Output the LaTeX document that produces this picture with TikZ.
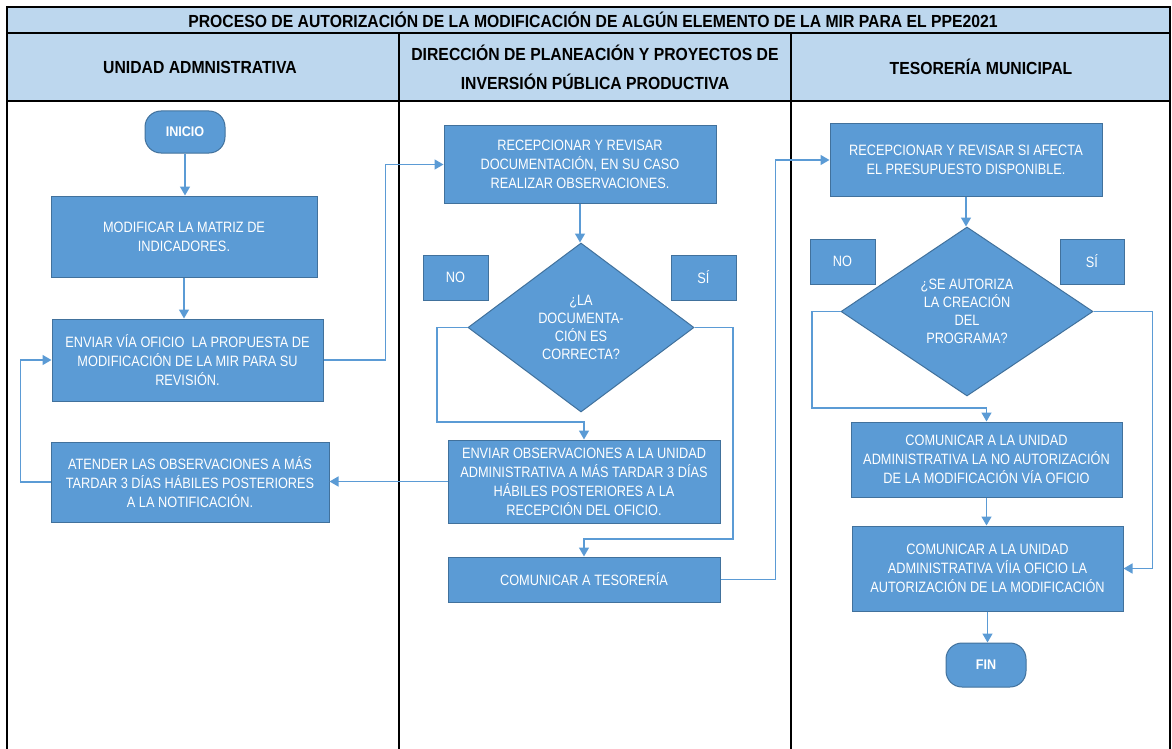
\documentclass[tikz,border=0pt]{standalone}
\usepackage{fontspec}
\setmainfont{Liberation Sans}[FakeStretch=0.85, BoldFeatures={FakeStretch=0.9}]
\usetikzlibrary{arrows.meta,shapes.geometric}

\definecolor{cajaazul}{RGB}{91,155,213}
\definecolor{bordeazul}{RGB}{65,113,156}
\definecolor{encabezado}{RGB}{189,215,238}

\tikzset{
    caja/.style={rectangle, fill=cajaazul, draw=bordeazul, line width=1pt, text=white,
                 align=center, inner sep=0pt, font=\fontsize{15}{19}\selectfont},
    rombo/.style={diamond, fill=cajaazul, draw=bordeazul, line width=1pt, text=white,
                  align=center, inner sep=0pt, font=\fontsize{15}{18}\selectfont},
    extremo/.style={caja, rounded corners=16pt, font=\bfseries\fontsize{14}{17}\selectfont,
                    minimum width=80pt},
    flujo/.style={draw=cajaazul, line width=1.5pt, -{Triangle[width=10pt,length=9pt]}},
    titulo/.style={font=\bfseries\fontsize{17.5}{29}\selectfont, align=center}
}

\begin{document}
\begin{tikzpicture}[x=1pt, y=-1pt]
                \useasboundingbox (0,0) rectangle (1172,749);
                % encabezado y carriles
                \fill[encabezado] (7,7) rectangle (1170,101);
                \draw[line width=2.5pt] (7,749) -- (7,7) -- (1170,7) -- (1170,749);
                \draw[line width=2pt] (7,33) -- (1170,33);
                \draw[line width=2pt] (7,101) -- (1170,101);
                \draw[line width=2pt] (399,33) -- (399,749);
                \draw[line width=2pt] (791,33) -- (791,749);
                \node(tit)    at(593, 20) [titulo] {PROCESO DE AUTORIZACIÓN DE LA MODIFICACIÓN DE ALGÚN ELEMENTO DE LA MIR PARA EL PPE2021};
                \node(car_ua) at(200, 67) [titulo] {UNIDAD ADMNISTRATIVA};
                \node(car_dp) at(595, 67) [titulo] {DIRECCIÓN DE PLANEACIÓN Y PROYECTOS DE\\INVERSIÓN PÚBLICA PRODUCTIVA};
                \node(car_tm) at(981, 67) [titulo] {TESORERÍA MUNICIPAL};

                % unidad administrativa
                \node(ini)   at(185, 132)   [extremo, minimum height=42pt] {INICIO};
                \node(mod_m) at(184, 236.5) [caja, minimum width=266pt, minimum height=81pt] {MODIFICAR LA MATRIZ DE\\INDICADORES.};
                \node(env_p) at(187.5, 360) [caja, minimum width=271pt, minimum height=82pt] {ENVIAR VÍA OFICIO \ LA PROPUESTA DE\\MODIFICACIÓN DE LA MIR PARA SU\\REVISIÓN.};
                \node(ate_o) at(190, 482)   [caja, minimum width=278pt, minimum height=80pt] {ATENDER LAS OBSERVACIONES A MÁS\\TARDAR 3 DÍAS HÁBILES POSTERIORES\\A LA NOTIFICACIÓN.};

                % direccion de planeacion
                \node(rev_d) at(580, 164.5) [caja, minimum width=272pt, minimum height=77pt] {RECEPCIONAR Y REVISAR\\DOCUMENTACIÓN, EN SU CASO\\REALIZAR OBSERVACIONES.};
                \node(dec_d) at(581, 327.5) [rombo, minimum width=226pt, minimum height=169pt] {¿LA\\DOCUMENTA-\\CIÓN ES\\CORRECTA?};
                \node(no_d)  at(455.5, 277.5) [caja, minimum width=65pt, minimum height=45pt] {NO};
                \node(si_d)  at(703.5, 277.5) [caja, minimum width=65pt, minimum height=45pt] {SÍ};
                \node(obs_e) at(584, 481.5) [caja, minimum width=272pt, minimum height=83pt] {ENVIAR OBSERVACIONES A LA UNIDAD\\ADMINISTRATIVA A MÁS TARDAR 3 DÍAS\\HÁBILES POSTERIORES A LA\\RECEPCIÓN DEL OFICIO.};
                \node(com_t) at(584, 579.5) [caja, minimum width=272pt, minimum height=45pt] {COMUNICAR A TESORERÍA};

                % tesoreria
                \node(rev_p) at(966, 160)   [caja, minimum width=272pt, minimum height=72pt] {RECEPCIONAR Y REVISAR SI AFECTA\\EL PRESUPUESTO DISPONIBLE.};
                \node(dec_a) at(967, 311.5) [rombo, minimum width=252pt, minimum height=169pt] {¿SE AUTORIZA\\LA CREACIÓN\\DEL\\PROGRAMA?};
                \node(no_a)  at(842.5, 261.5) [caja, minimum width=65pt, minimum height=45pt] {NO};
                \node(si_a)  at(1092, 261.5)  [caja, minimum width=64pt, minimum height=45pt] {SÍ};
                \node(com_n) at(986.5, 459.5) [caja, minimum width=271pt, minimum height=75pt] {COMUNICAR A LA UNIDAD\\ADMINISTRATIVA LA NO AUTORIZACIÓN\\DE LA MODIFICACIÓN VÍA OFICIO};
                \node(com_s) at(987.5, 568.5) [caja, minimum width=271pt, minimum height=85pt] {COMUNICAR A LA UNIDAD\\ADMINISTRATIVA VÍIA OFICIO LA\\AUTORIZACIÓN DE LA MODIFICACIÓN};
                \node(fin)   at(986, 665)   [extremo, minimum height=44pt] {FIN};

                \coordinate(cod_no) at(437, 422);
                \coordinate(cod_si) at(733, 539);
                \coordinate(aut_no) at(812, 408);

                \draw[flujo] (ini.south) -- (ini.south |- mod_m.north);
                \draw[flujo] (mod_m.south) -- (mod_m.south |- env_p.north);
                \draw[flujo] (env_p.east) -- ++(62, 0) |- (rev_d.west);
                \draw[flujo] (ate_o.west) -- ++(-30, 0) |- (env_p.west);
                \draw[flujo] (rev_d.south) -- (rev_d.south |- dec_d.north);
                \draw[flujo] (dec_d.west) -| (cod_no) -| (obs_e.north);
                \draw[flujo] (dec_d.east) -| (cod_si) -| (com_t.north);
                \draw[flujo] (obs_e.west) -- (obs_e.west -| ate_o.east);
                \draw[flujo] (com_t.east) -- ++(55, 0) |- (rev_p.west);
                \draw[flujo] (rev_p.south) -- (rev_p.south |- dec_a.north);
                \draw[flujo] (dec_a.west) -| (aut_no) -| (com_n.north);
                \draw[flujo] (dec_a.east) -- ++(59, 0) |- (com_s.east);
                \draw[flujo] (com_n.south) -- (com_n.south |- com_s.north);
                \draw[flujo] (com_s.south) -- (com_s.south |- fin.north);
\end{tikzpicture}
\end{document}
